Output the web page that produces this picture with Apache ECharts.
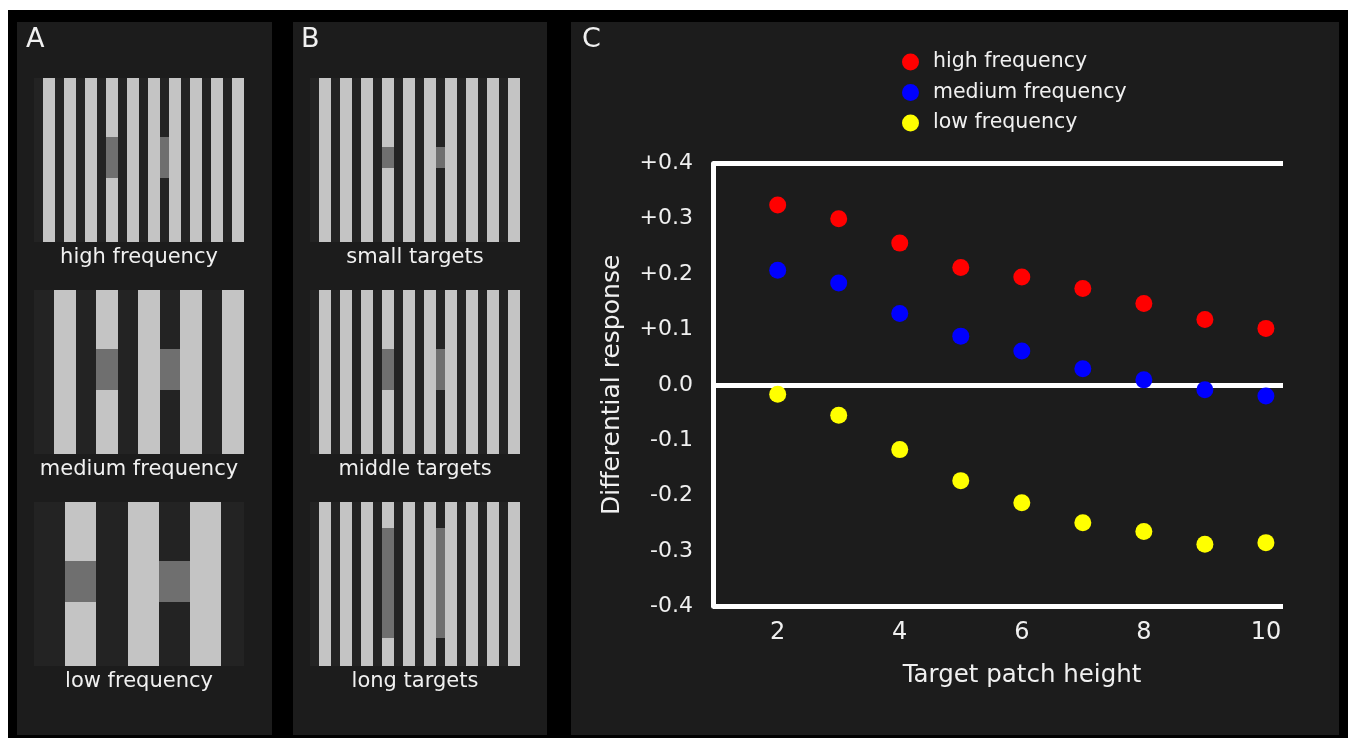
<!DOCTYPE html>
<html>
<head>
<meta charset="utf-8">
<title>Differential response by target patch height</title>
<script src="https://cdn.jsdelivr.net/npm/echarts@6/dist/echarts.min.js"></script>
<style>
  html, body { margin: 0; padding: 0; background: #000; }
  #chart { width: 1348px; height: 738px; }
</style>
</head>
<body>
<div id="chart"></div>
<script>
// panel C values
const patchHeights = [2, 3, 4, 5, 6, 7, 8, 9, 10]
const highFrequency = [0.325, 0.300, 0.256, 0.212, 0.195, 0.174, 0.147, 0.118, 0.102]
const mediumFrequency = [0.207, 0.184, 0.129, 0.088, 0.061, 0.029, 0.009, -0.009, -0.020]
const lowFrequency = [-0.017, -0.055, -0.117, -0.173, -0.213, -0.249, -0.265, -0.288, -0.285]
const seriesNames = ["high frequency", "medium frequency", "low frequency"]
const yTickLabels = ["-0.4", "-0.3", "-0.2", "-0.1", "0.0", "+0.1", "+0.2", "+0.3", "+0.4"]
const xTickValues = [2, 4, 6, 8, 10]
const frameLines = [0.4, 0, -0.4]

// panels A and B: light bars [x0, x1] and grey targets [x0, x1, y0, y1] in a 210 x 164 stimulus box
const fineBars = [[9, 21], [30, 42], [51, 63], [72, 84], [93, 105], [114, 126], [135, 147], [156, 168], [177, 189], [198, 210]]
const mediumBars = [[20, 42], [62, 84], [104, 126], [146, 168], [188, 210]]
const coarseBars = [[31, 62], [94, 125], [156, 187]]
const highTargets = [[72, 84, 59, 100], [126, 135, 59, 100]]
const mediumTargets = [[62, 84, 59, 100], [126, 146, 59, 100]]
const lowTargets = [[31, 62, 59, 100], [125, 156, 59, 100]]
const smallTargets = [[72, 84, 69, 90], [126, 135, 69, 90]]
const middleTargets = [[72, 84, 59, 100], [126, 135, 59, 100]]
const longTargets = [[72, 84, 26, 136], [126, 135, 26, 136]]
const stimulusNames = ["high frequency", "medium frequency", "low frequency", "small targets", "middle targets", "long targets"]

const stimuli = [
  { bars: fineBars, targets: highTargets },
  { bars: mediumBars, targets: mediumTargets },
  { bars: coarseBars, targets: lowTargets },
  { bars: fineBars, targets: smallTargets },
  { bars: fineBars, targets: middleTargets },
  { bars: fineBars, targets: longTargets }
]

const font = "DejaVu Sans"
const textColor = "#f0f0f0"
const stimLeft = [34, 34, 34, 310, 310, 310]
const stimTop = [78, 290, 502, 78, 290, 502]
const chartIndex = stimuli.length

const grids = stimuli.map((_s, i) => ({
  left: stimLeft[i], top: stimTop[i], width: 210, height: 164,
  show: true, backgroundColor: "#232323", borderWidth: 0
}))
grids.push({ left: 713, right: 65, top: 163.4, bottom: 131.7 })

const xAxes = stimuli.map((_s, i) => ({
  gridIndex: i, type: "value", min: 0, max: 210,
  axisLine: { show: false }, axisTick: { show: false }, axisLabel: { show: false }, splitLine: { show: false },
  name: stimulusNames[i], nameLocation: "middle", nameGap: 5,
  nameTextStyle: { color: textColor, fontSize: 21, fontFamily: font }
}))
xAxes.push({
  gridIndex: chartIndex, type: "value", min: 0.94, max: 10.28,
  axisLine: { show: false }, axisTick: { show: false }, splitLine: { show: false },
  axisLabel: { customValues: xTickValues, color: textColor, fontSize: 24, fontFamily: font, margin: 14 },
  name: "Target patch height", nameLocation: "middle", nameGap: 57,
  nameTextStyle: { color: textColor, fontSize: 24.5, fontFamily: font, padding: [0, 0, 0, 48] }
})

const yAxes = stimuli.map((_s, i) => ({
  gridIndex: i, type: "value", min: 0, max: 164, inverse: true, show: false
}))
yAxes.push({
  gridIndex: chartIndex, type: "value", min: -0.4, max: 0.4, interval: 0.1,
  axisLine: { show: true, onZero: false, lineStyle: { color: "#ffffff", width: 5 } },
  axisTick: { show: false }, splitLine: { show: false },
  axisLabel: {
    formatter: (v) => yTickLabels[Math.round(v * 10) + 4],
    color: textColor, fontSize: 22, fontFamily: font, margin: 20
  },
  name: "Differential response", nameLocation: "middle", nameGap: 88,
  nameTextStyle: { color: textColor, fontSize: 25, fontFamily: font }
})

const stimulusSeries = stimuli.map((s, i) => ({
  type: "custom",
  xAxisIndex: i, yAxisIndex: i,
  silent: true,
  encode: { x: [0, 1], y: [2, 3] },
  data: s.bars.map((b) => [b[0], b[1], 0, 164, 0]).concat(s.targets.map((t) => [t[0], t[1], t[2], t[3], 1])),
  renderItem: (params, api) => {
    const p0 = api.coord([api.value(0), api.value(2)])
    const p1 = api.coord([api.value(1), api.value(3)])
    return {
      type: "rect",
      shape: { x: p0[0], y: p0[1], width: p1[0] - p0[0], height: p1[1] - p0[1] },
      style: { fill: api.value(4) ? "#6f6f6f" : "#c4c4c4" }
    }
  }
}))

const dotColors = ["#ff0000", "#0000ff", "#ffff00"]
const dotSeries = [highFrequency, mediumFrequency, lowFrequency].map((values, i) => ({
  name: seriesNames[i],
  type: "scatter",
  xAxisIndex: chartIndex, yAxisIndex: chartIndex,
  symbolSize: 17,
  z: 10,
  itemStyle: { color: dotColors[i], opacity: 1 },
  data: patchHeights.map((h, j) => [h, values[j]])
}))

const frameSeries = {
  name: "frame",
  type: "scatter",
  xAxisIndex: chartIndex, yAxisIndex: chartIndex,
  data: [],
  silent: true,
  markLine: {
    silent: true,
    symbol: "none",
    label: { show: false },
    lineStyle: { color: "#ffffff", width: 5, type: "solid" },
    data: frameLines.map((v) => ({ yAxis: v }))
  }
}

const panel = (x, w) => ({ type: "rect", z: -10, shape: { x: x, y: 22, width: w, height: 713 }, style: { fill: "#1c1c1c" } })
const letter = (x, t) => ({ type: "text", z: 20, x: x, y: 26, style: { text: t, fill: textColor, font: "27px " + font } })

const chart = echarts.init(document.getElementById("chart"))
chart.setOption({
  animation: false,
  backgroundColor: "#000000",
  graphic: [
    { type: "rect", z: -5, shape: { x: 0, y: 0, width: 1348, height: 10 }, style: { fill: "#ffffff" } },
    { type: "rect", z: -5, shape: { x: 0, y: 0, width: 8, height: 738 }, style: { fill: "#ffffff" } },
    panel(17, 255), panel(293, 254), panel(571, 768),
    letter(26, "A"), letter(301, "B"), letter(582, "C")
  ],
  legend: {
    data: seriesNames,
    orient: "vertical",
    left: 897, top: 46.5,
    itemWidth: 17, itemHeight: 17, itemGap: 9.5,
    icon: "circle",
    selectedMode: false,
    textStyle: { color: textColor, fontSize: 20.5, fontFamily: font, padding: [0, 0, 0, 9] }
  },
  grid: grids,
  xAxis: xAxes,
  yAxis: yAxes,
  series: stimulusSeries.concat([frameSeries], dotSeries)
})
</script>
</body>
</html>
